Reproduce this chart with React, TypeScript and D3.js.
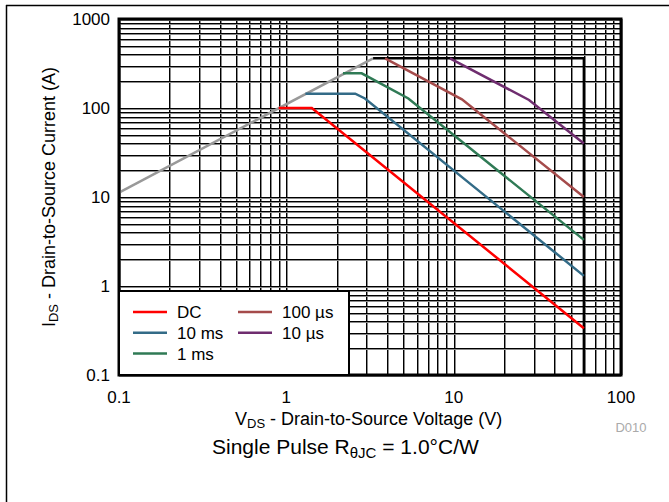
import * as d3 from 'd3'

const WIDTH = 669
const HEIGHT = 502
const PLOT = { left: 119, right: 621, top: 19, bottom: 375 }
const FONT = '"Liberation Sans", Arial, sans-serif'

const X_TICKS = [0.1, 1, 10, 100]
const X_TICK_LABELS = ['0.1', '1', '10', '100']
const Y_TICKS = [0.1, 1, 10, 100, 1000]
const Y_TICK_LABELS = ['0.1', '1', '10', '100', '1000']

// [V, A] pairs
const RDS_LIMIT: [number, number][] = [
  [0.1, 11.2],
  [3.3, 362],
]
const PACKAGE_LIMIT: [number, number][] = [
  [3.3, 362],
  [60, 362],
  [60, 0.1],
]
const DC: [number, number][] = [
  [0.9, 100],
  [1.42, 100],
  [60, 0.335],
]
const MS10: [number, number][] = [
  [1.3, 145],
  [2.58, 145],
  [2.95, 128],
  [60, 1.3],
]
const MS1: [number, number][] = [
  [2.18, 245],
  [2.82, 245],
  [5.36, 128],
  [60, 3.3],
]
const US100: [number, number][] = [
  [3.89, 362],
  [11.2, 125],
  [60, 10],
]
const US10: [number, number][] = [
  [9.5, 362],
  [28.2, 123],
  [60, 40],
]

const SERIES = [
  { name: 'DC', color: '#ff0000', data: DC },
  { name: '10 ms', color: '#336b87', data: MS10 },
  { name: '1 ms', color: '#2f7a55', data: MS1 },
  { name: '100 µs', color: '#a54b4b', data: US100 },
  { name: '10 µs', color: '#6f2d6f', data: US10 },
]
// legend slot [column, row] per series
const LEGEND_SLOTS = [
  [0, 0],
  [0, 1],
  [0, 2],
  [1, 0],
  [1, 1],
]

const minorValues = (from: number, to: number) => {
  const out: number[] = []
  for (let d = from; d < to; d *= 10) for (let k = 1; k < 10; k++) out.push(d * k)
  out.push(to)
  return out
}

export default function App() {
  const x = d3.scaleLog([0.1, 100], [PLOT.left, PLOT.right])
  const y = d3.scaleLog([0.1, 1000], [PLOT.bottom, PLOT.top])
  const line = d3
    .line<[number, number]>()
    .x((d) => x(d[0]))
    .y((d) => y(d[1]))

  const xGrid = minorValues(0.1, 100)
  const yGrid = minorValues(0.1, 1000)

  const legend = { left: PLOT.left, top: 291, right: 349, bottom: PLOT.bottom }

  return (
    <svg
      width={WIDTH}
      height={HEIGHT}
      style={{ position: 'absolute', left: 0, top: 0, background: '#fff' }}
      fontFamily={FONT}
    >
      <rect x={0} y={0} width={WIDTH} height={HEIGHT} fill="#fff" />
      {/* outer frame */}
      <line x1={6.5} x2={6.5} y1={5} y2={HEIGHT} stroke="#000" strokeWidth={1.5} />
      <line x1={6} x2={WIDTH} y1={5.5} y2={5.5} stroke="#000" strokeWidth={1.5} />

      {/* grid: every line is a black line with a gray one beside it */}
      <g>
        {xGrid.map((v) => {
          const px = Math.round(x(v))
          return (
            <g key={'x' + v}>
              <line x1={px + 1.5} x2={px + 1.5} y1={PLOT.top} y2={PLOT.bottom} stroke="#8c8c8c" />
              <line x1={px + 0.5} x2={px + 0.5} y1={PLOT.top} y2={PLOT.bottom} stroke="#000" />
            </g>
          )
        })}
        {yGrid.map((v) => {
          const py = Math.round(y(v))
          return (
            <g key={'y' + v}>
              <line x1={PLOT.left} x2={PLOT.right} y1={py + 1.5} y2={py + 1.5} stroke="#8c8c8c" />
              <line x1={PLOT.left} x2={PLOT.right} y1={py + 0.5} y2={py + 0.5} stroke="#000" />
            </g>
          )
        })}
      </g>

      {/* limits */}
      <path d={line(RDS_LIMIT) ?? ''} fill="none" stroke="#999" strokeWidth={2.5} />
      <path d={line(PACKAGE_LIMIT) ?? ''} fill="none" stroke="#000" strokeWidth={2.5} />

      {SERIES.map((s) => (
        <path key={s.name} d={line(s.data) ?? ''} fill="none" stroke={s.color} strokeWidth={2.5} />
      ))}

      <rect
        x={PLOT.left}
        y={PLOT.top}
        width={PLOT.right - PLOT.left}
        height={PLOT.bottom - PLOT.top}
        fill="none"
        stroke="#000"
        strokeWidth={3}
      />

      {/* legend */}
      <rect
        x={legend.left}
        y={legend.top}
        width={legend.right - legend.left}
        height={legend.bottom - legend.top}
        fill="#fff"
        stroke="#000"
        strokeWidth={2}
      />
      {SERIES.map((s, i) => {
        const [col, row] = LEGEND_SLOTS[i]
        const lx = legend.left + 14 + col * 105
        const ly = 312 + row * 20.8
        return (
          <g key={'lg' + s.name}>
            <line x1={lx} x2={lx + 34} y1={ly} y2={ly} stroke={s.color} strokeWidth={2.5} />
            <text x={lx + 44} y={ly + 6} fontSize={17} fill="#000">
              {s.name}
            </text>
          </g>
        )
      })}

      {/* tick labels */}
      {Y_TICKS.map((v, i) => (
        <text key={'yt' + v} x={110} y={y(v) + 6} fontSize={17} textAnchor="end" fill="#000">
          {Y_TICK_LABELS[i]}
        </text>
      ))}
      {X_TICKS.map((v, i) => (
        <text key={'xt' + v} x={x(v)} y={403} fontSize={17} textAnchor="middle" fill="#000">
          {X_TICK_LABELS[i]}
        </text>
      ))}

      {/* axis titles */}
      <text x={235} y={425} fontSize={18} fill="#000">
        V<tspan fontSize={13} dy={3}>DS</tspan>
        <tspan dy={-3}> - Drain-to-Source Voltage (V)</tspan>
      </text>
      <text
        transform={`translate(55,${(PLOT.top + PLOT.bottom) / 2}) rotate(-90)`}
        fontSize={18}
        textAnchor="middle"
        fill="#000"
      >
        I<tspan fontSize={13} dy={3}>DS</tspan>
        <tspan dy={-3}> - Drain-to-Source Current (A)</tspan>
      </text>
      <text x={631} y={432} fontSize={13} textAnchor="middle" fill="#aaa">
        D010
      </text>
      <text x={212} y={454} fontSize={21} fill="#000">
        Single Pulse R<tspan fontSize={15} dy={4}>θJC</tspan>
        <tspan dy={-4}> = 1.0°C/W</tspan>
      </text>
    </svg>
  )
}
